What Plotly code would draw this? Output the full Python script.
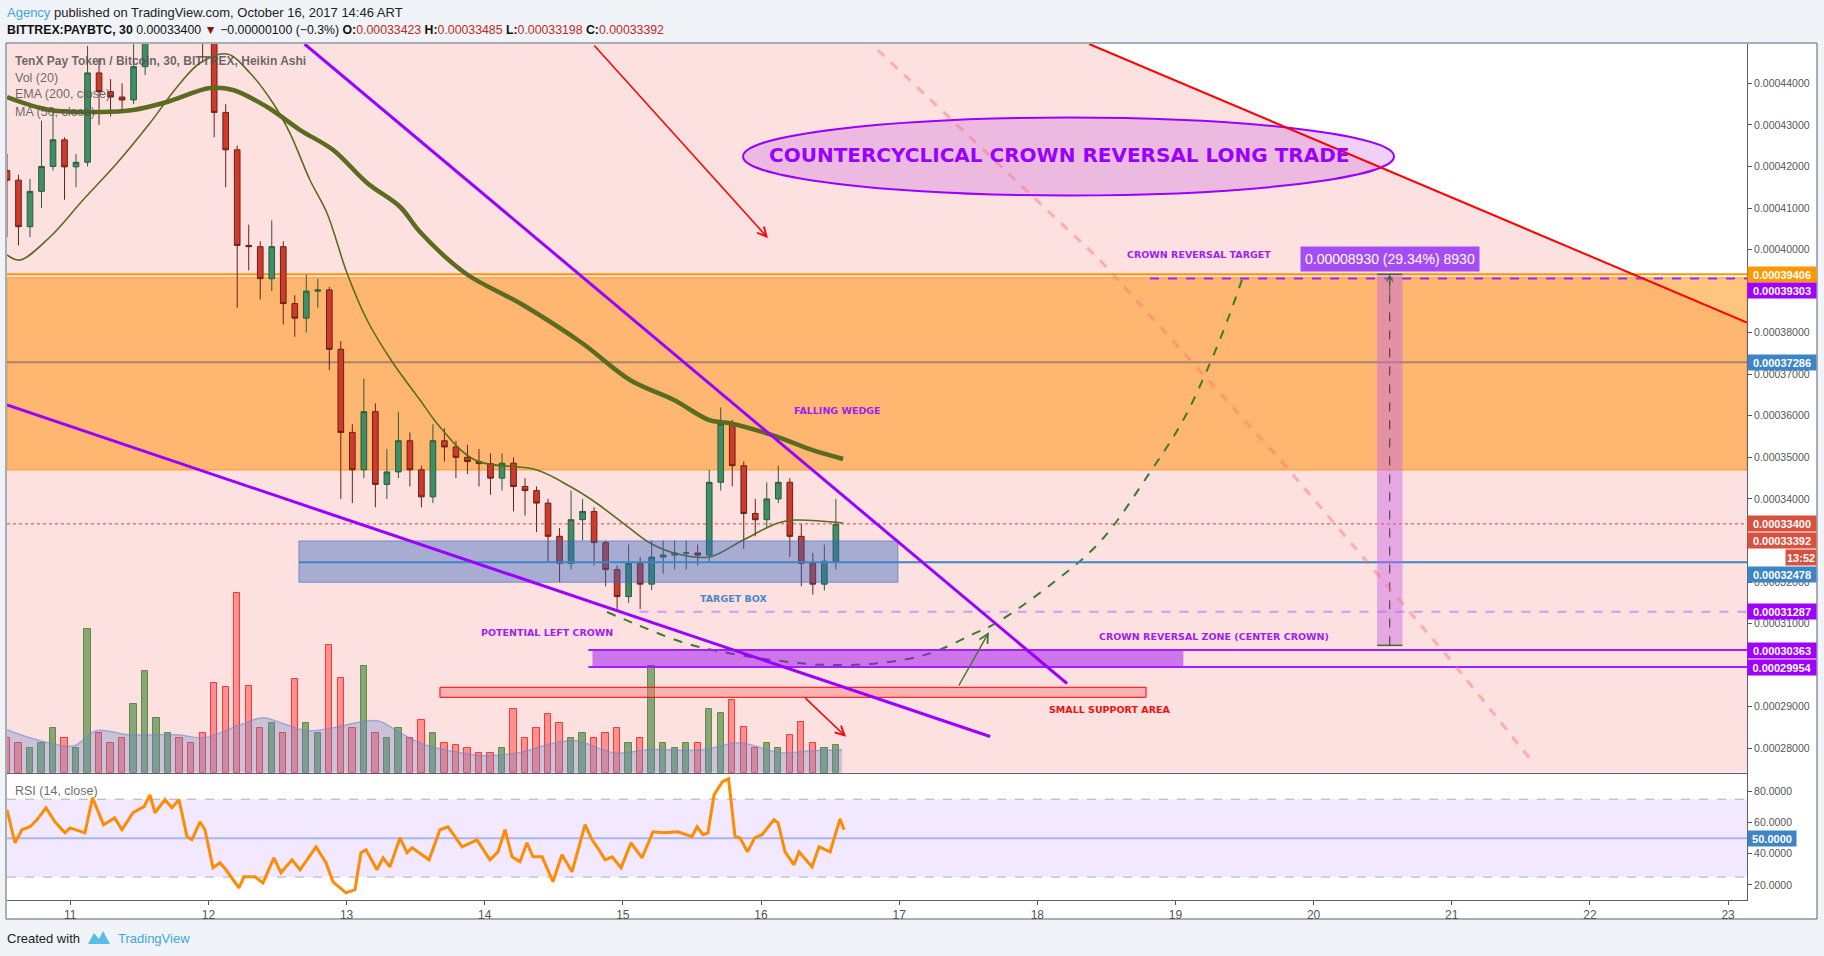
import numpy as np
import plotly.graph_objects as go

S = 1e-8  # satoshi -> BTC

# ---------------- candles: 2-hour Heikin Ashi bars (satoshi) ----------------
bar_start_day = 10.5417
bar_step_day = 2.0 / 24.0
ha_first_open = 41900
ha_close = [41670, 40550, 41400, 42000, 42640, 41990, 42100, 44250, 43800, 43670,
            43600, 44400, 45600, 46000, 46200, 46000, 45800, 45200, 43300, 42400,
            40100, 40070, 39300, 40070, 38700, 38350, 39000, 39030, 37600, 35600,
            34700, 36100, 34350, 34650, 35400, 34700, 34050, 35400, 35250, 35000,
            34900, 34850, 34500, 34860, 34300, 34200, 33900, 33100, 32450, 33500,
            33700, 32950, 32300, 31650, 32450, 31950, 32600, 32650, 32700, 32700,
            32650, 34400, 35800, 34800, 33650, 33500, 34000, 34400, 33100, 32450,
            31950, 32500, 33392]
ha_high = [42300, 41800, 41700, 43100, 43300, 42700, 42300, 44900, 44600, 44100,
           44000, 45000, 46000, 46400, 46600, 46500, 46300, 46000, 45400, 43500,
           42500, 40600, 40200, 40700, 40200, 38900, 39400, 39300, 39100, 37800,
           35800, 36900, 36300, 35200, 36100, 35600, 34800, 35800, 35700, 35400,
           35300, 35200, 35100, 35100, 35000, 34500, 34300, 34000, 33300, 34200,
           34000, 33800, 33000, 32400, 32900, 32600, 33000, 33000, 33000, 33000,
           32900, 34700, 36200, 35900, 34900, 34000, 34400, 34800, 34500, 33400,
           32700, 32900, 34000]
ha_low = [40300, 40100, 40300, 41000, 41900, 41200, 41500, 42000, 43000, 43200,
          43300, 43500, 44200, 45300, 45700, 45600, 45300, 44500, 42700, 41500,
          38600, 39500, 38800, 39000, 38200, 37900, 38000, 38600, 37100, 34000,
          33900, 34500, 33800, 34000, 34500, 34300, 33800, 33900, 34900, 34500,
          34600, 34300, 34100, 34200, 33700, 33600, 33200, 32500, 32000, 32300,
          33000, 32400, 31900, 31300, 31500, 31350, 31800, 32200, 32300, 32300,
          32400, 32500, 34200, 34300, 32800, 33100, 33300, 33900, 32600, 31900,
          31700, 31800, 32300]
volume = [35, 30, 25, 30, 45, 35, 25, 144, 40, 30, 35, 69, 102, 55, 40, 35, 30, 40,
          90, 86, 180, 87, 45, 50, 40, 94, 50, 40, 128, 95, 45, 107, 40, 35, 45, 35,
          53, 40, 30, 28, 25, 20, 20, 25, 64, 35, 45, 59, 50, 35, 40, 35, 40, 45, 30,
          35, 107, 30, 25, 30, 30, 64, 60, 73, 46, 25, 30, 25, 38, 51, 30, 25, 28]

# ---------------- indicators read at nodes ----------------
ema200_day = [10.542, 10.853, 11.215, 11.454, 11.700, 12.012, 12.178, 12.425, 12.664,
              12.903, 13.149, 13.388, 13.532, 13.857, 14.277, 14.704, 15.052, 15.370,
              15.624, 15.768, 16.123, 16.369, 16.594]
ema200_sat = [43670, 43358, 43309, 43358, 43550, 43887, 43839, 43430, 42876, 42395,
              41601, 41024, 40422, 39436, 38666, 37752, 36862, 36381, 35899, 35827,
              35490, 35178, 34961]
ma50_day = [10.542, 10.636, 10.853, 11.092, 11.339, 11.577, 11.773, 11.939, 12.135,
            12.301, 12.467, 12.590, 12.735, 12.858, 13.003, 13.148, 13.336, 13.532,
            13.676, 13.930, 14.378, 14.625, 14.777, 15.001, 15.197, 15.370, 15.624,
            15.870, 16.123, 16.246, 16.594]
ma50_sat = [39870, 39749, 40303, 41193, 42083, 43045, 43911, 44488, 44705, 44248,
            43526, 42804, 41673, 40879, 39436, 38305, 37270, 36380, 35730, 34936,
            34695, 34286, 33974, 33420, 32939, 32699, 32602, 33011, 33420, 33492, 33420]
volma_day = [10.542, 10.759, 11.027, 11.186, 11.425, 11.781, 11.962, 12.230, 12.395,
             12.526, 12.714, 12.902, 13.221, 13.387, 13.568, 13.923, 14.002, 14.241,
             14.509, 14.668, 14.936, 15.189, 15.580, 15.841, 16.145, 16.355, 16.587]
volma_val = [43, 33, 27, 42, 38, 38, 35, 48, 55, 50, 42, 45, 52, 40, 28, 18, 17, 20,
             30, 32, 20, 23, 23, 30, 20, 22, 23]
rsi_day = [10.542, 10.600, 10.650, 10.708, 10.759, 10.824, 10.889, 10.962, 10.998,
           11.106, 11.161, 11.241, 11.321, 11.374, 11.454, 11.534, 11.577, 11.613,
           11.686, 11.736, 11.787, 11.845, 11.881, 11.939, 11.975, 12.033, 12.084,
           12.127, 12.221, 12.257, 12.337, 12.395, 12.474, 12.525, 12.605, 12.663,
           12.779, 12.851, 12.902, 12.996, 13.061, 13.104, 13.141, 13.220, 13.264,
           13.314, 13.387, 13.438, 13.474, 13.597, 13.676, 13.734, 13.785, 13.836,
           13.944, 14.038, 14.096, 14.147, 14.198, 14.255, 14.306, 14.349, 14.415,
           14.494, 14.559, 14.632, 14.726, 14.777, 14.827, 14.871, 14.922, 14.987,
           15.059, 15.139, 15.218, 15.298, 15.399, 15.500, 15.537, 15.580, 15.616,
           15.660, 15.721, 15.765, 15.812, 15.848, 15.902, 15.954, 16.007, 16.094,
           16.123, 16.174, 16.239, 16.275, 16.369, 16.420, 16.500, 16.572, 16.601]
rsi_val = [68.2, 47.0, 55.4, 57.3, 61.8, 69.5, 60.5, 53.4, 56.6, 53.4, 75.9, 58.6,
           63.0, 55.4, 66.3, 70.2, 77.8, 66.3, 74.7, 69.5, 74.7, 50.9, 49.0, 60.5,
           55.4, 31.0, 34.2, 29.7, 18.1, 25.2, 25.2, 21.3, 37.4, 27.8, 36.1, 29.7,
           44.4, 34.2, 22.0, 14.9, 16.9, 40.6, 42.5, 29.7, 37.4, 31.6, 50.2, 40.6,
           43.8, 36.1, 55.4, 57.3, 50.9, 44.4, 48.9, 36.1, 41.2, 55.4, 38.0, 34.8,
           47.0, 38.0, 38.0, 22.0, 39.3, 28.4, 58.6, 48.9, 42.5, 36.1, 38.0, 31.0,
           47.0, 37.4, 54.1, 53.4, 54.1, 50.9, 57.3, 52.2, 53.4, 77.8, 86.2, 88.1,
           50.9, 50.2, 41.2, 50.2, 52.2, 61.8, 59.9, 41.2, 32.9, 41.2, 31.6, 44.4,
           41.2, 62.4, 55.4]

# crown curve (hand drawn dashed path), day / satoshi
crown_day = [14.885, 15.074, 15.449, 15.841, 16.355, 16.615, 16.869, 17.130, 17.289,
             17.521, 17.702, 18.093, 18.455, 18.817, 19.056, 19.251, 19.396, 19.490]
crown_sat = [31279, 31015, 30533, 30245, 30028, 30004, 30052, 30197, 30365, 30726,
             31015, 31929, 32971, 34648, 35899, 37271, 38474, 39364]

day_ticks = list(range(11, 24))
# 0.00039, 0.00033 and 0.00030 are hidden behind price labels in the reference
price_ticks_sat = [28000, 29000, 31000, 32000, 34000, 35000, 36000, 37000, 38000,
                   40000, 41000, 42000, 43000, 44000]
rsi_ticks = [20, 40, 60, 80]

# horizontal levels (satoshi)
LVL_TOP_ORANGE = 39406
LVL_TARGET = 39303
LVL_MID = 37286
LVL_LAST = 33400
LVL_CLOSE = 33392
LVL_BLUE = 32478
LVL_DASH = 31287
LVL_ZONE_HI = 30363
LVL_ZONE_LO = 29954

XL, XR = 10.542, 23.137
YB, YT = 27413, 44946

def b(s):
    return s * S

# ---------------- geometry of the page ----------------
W, H = 1824, 956
ML, MR, MT, MB = 7, 77, 44, 56
PW, PH = W - ML - MR, H - MT - MB

def px(x):
    return (x - ML) / PW

def py(y):
    return (H - MB - y) / PH

SPLIT = py(772.7)

# ---------------- derived candle arrays ----------------
n = len(ha_close)
bar_day = bar_start_day + bar_step_day * np.arange(n)
ha_open = [ha_first_open] + ha_close[:-1]
o = np.array(ha_open) * S
c = np.array(ha_close) * S
h = np.array(ha_high) * S
l = np.array(ha_low) * S
up = np.array(ha_close) >= np.array(ha_open)

fig = go.Figure()

# volume (overlay axis y3)
fig.add_trace(go.Bar(
    x=bar_day, y=volume, xaxis='x', yaxis='y3', width=bar_step_day * 0.55,
    marker=dict(color=['rgba(95,150,80,0.75)' if u else 'rgba(255,90,90,0.6)' for u in up],
                line=dict(color=['rgba(90,130,60,0.9)' if u else 'rgba(255,40,40,0.9)' for u in up],
                          width=1)),
    showlegend=False, hoverinfo='skip'))
fig.add_trace(go.Scatter(
    x=volma_day, y=volma_val, xaxis='x', yaxis='y3', mode='lines', fill='tozeroy',
    line=dict(color='rgba(110,135,200,0.55)', width=1.5, shape='spline'),
    fillcolor='rgba(110,135,200,0.35)', showlegend=False, hoverinfo='skip'))

# candles
fig.add_trace(go.Candlestick(
    x=bar_day, open=o, high=h, low=l, close=c, xaxis='x', yaxis='y',
    increasing=dict(line=dict(color='#2f5a3c', width=1), fillcolor='#3f8f66'),
    decreasing=dict(line=dict(color='#6a2116', width=1), fillcolor='#cf3b2a'),
    showlegend=False, hoverinfo='skip'))

# moving averages
fig.add_trace(go.Scatter(x=ema200_day, y=np.array(ema200_sat) * S, mode='lines',
                         line=dict(color='#5b6b1f', width=4.5, shape='spline'),
                         showlegend=False, hoverinfo='skip'))
fig.add_trace(go.Scatter(x=ma50_day, y=np.array(ma50_sat) * S, mode='lines',
                         line=dict(color='#5b6b1f', width=1.6, shape='spline'),
                         showlegend=False, hoverinfo='skip'))
# crown dashed curve
fig.add_trace(go.Scatter(x=crown_day, y=np.array(crown_sat) * S, mode='lines',
                         line=dict(color='#3a7d28', width=2, dash='dash', shape='spline'),
                         showlegend=False, hoverinfo='skip'))

# RSI
fig.add_trace(go.Scatter(x=rsi_day, y=rsi_val, xaxis='x2', yaxis='y2', mode='lines',
                         line=dict(color='#ff8c00', width=3),
                         showlegend=False, hoverinfo='skip'))

# ---------------- shapes ----------------
shapes = []
# chart frame
shapes.append(dict(type='rect', xref='paper', yref='paper', x0=px(6), x1=px(1817),
                   y0=py(919), y1=py(43), fillcolor='white',
                   line=dict(color='#5d606b', width=1), layer='below'))
# pink background polygon (below red trend line)
RED_X0, RED_Y0, RED_X1, RED_Y1 = 18.375, 44946, 23.137, 38245
shapes.append(dict(type='path', xref='x', yref='y', layer='below',
                   path=f"M {XL},{b(YT)} L {RED_X0},{b(YT)} L {XR},{b(RED_Y1)} L {XR},{b(YB)} L {XL},{b(YB)} Z",
                   fillcolor='#fde0e0', line=dict(width=0)))
# orange zone
shapes.append(dict(type='rect', xref='x', yref='y', layer='below', x0=XL, x1=XR,
                   y0=b(34696), y1=b(39323), fillcolor='rgba(255,140,0,0.5)',
                   line=dict(color='rgba(255,140,0,0.7)', width=1)))
shapes.append(dict(type='line', xref='x', yref='y', layer='below', x0=XL, x1=XR,
                   y0=b(LVL_TOP_ORANGE), y1=b(LVL_TOP_ORANGE),
                   line=dict(color='#ff9800', width=2)))
shapes.append(dict(type='line', xref='x', yref='y', layer='below', x0=XL, x1=XR,
                   y0=b(LVL_MID), y1=b(LVL_MID),
                   line=dict(color='rgba(70,70,100,0.45)', width=2)))
# RSI band
shapes.append(dict(type='rect', xref='x2', yref='y2', layer='below', x0=XL, x1=XR,
                   y0=25, y1=75, fillcolor='rgba(180,120,255,0.17)', line=dict(width=0)))
for lv in (25, 75):
    shapes.append(dict(type='line', xref='x2', yref='y2', layer='below', x0=XL, x1=XR,
                       y0=lv, y1=lv, line=dict(color='#b3abba', width=1, dash='dash')))
shapes.append(dict(type='line', xref='x2', yref='y2', layer='below', x0=XL, x1=XR,
                   y0=50, y1=50, line=dict(color='#a8b6ee', width=2)))

def hl(y, x0, color, width, dash='solid', x1=XR):
    shapes.append(dict(type='line', xref='x', yref='y', layer='above', x0=x0, x1=x1,
                       y0=b(y), y1=b(y), line=dict(color=color, width=width, dash=dash)))

# target box
shapes.append(dict(type='rect', xref='x', yref='y', layer='above', x0=12.655, x1=16.991,
                   y0=b(31995), y1=b(32990), fillcolor='rgba(50,100,190,0.42)',
                   line=dict(color='rgba(50,100,190,0.55)', width=1)))
hl(LVL_BLUE, 12.655, '#3d85c6', 2)
hl(LVL_LAST, XL, '#e0443a', 1, 'dot')
hl(LVL_DASH, 15.12, 'rgba(190,100,255,0.6)', 2, 'dash')
# crown reversal zone
shapes.append(dict(type='rect', xref='x', yref='y', layer='above', x0=14.78, x1=19.057,
                   y0=b(LVL_ZONE_LO), y1=b(LVL_ZONE_HI), fillcolor='rgba(160,10,245,0.5)',
                   line=dict(width=0)))
hl(LVL_ZONE_HI, 14.75, '#a01eff', 2)
hl(LVL_ZONE_LO, 14.75, '#a01eff', 2)
hl(LVL_TARGET, 18.816, '#9c27ff', 2, 'dash')
# small support area
shapes.append(dict(type='rect', xref='x', yref='y', layer='above', x0=13.676, x1=18.787,
                   y0=b(29227), y1=b(29468), fillcolor='rgba(255,120,120,0.45)',
                   line=dict(color='#ff0000', width=1)))
# measurement bar
shapes.append(dict(type='rect', xref='x', yref='y', layer='above', x0=20.459, x1=20.643,
                   y0=b(30476), y1=b(LVL_TOP_ORANGE), fillcolor='rgba(200,100,230,0.45)',
                   line=dict(width=0)))
for yy in (30476, LVL_TOP_ORANGE):
    hl(yy, 20.459, '#4a6b2a', 1.5, x1=20.643)
shapes.append(dict(type='line', xref='x', yref='y', layer='above', x0=20.551, x1=20.551,
                   y0=b(30476), y1=b(LVL_TOP_ORANGE),
                   line=dict(color='#333333', width=1, dash='dash')))
# ellipse
shapes.append(dict(type='circle', xref='x', yref='y', layer='above', x0=15.870, x1=20.582,
                   y0=b(41303), y1=b(43177), fillcolor='rgba(200,100,230,0.3)',
                   line=dict(color='#9900ff', width=2)))
# pink dashed diagonal
pd_pts = [(16.846, 44801), (18.453, 39750), (19.778, 34866), (21.009, 30054), (21.602, 27600)]
shapes.append(dict(type='path', xref='x', yref='y', layer='above',
                   path='M ' + ' L '.join(f'{xx},{b(yy)}' for xx, yy in pd_pts),
                   line=dict(color='rgba(255,110,110,0.45)', width=3, dash='dash')))
# wedge lines
shapes.append(dict(type='line', xref='x', yref='y', layer='above', x0=12.696, y0=b(44946),
                   x1=18.215, y1=b(29559), line=dict(color='#9c00ff', width=3)))
shapes.append(dict(type='line', xref='x', yref='y', layer='above', x0=10.542, y0=b(36260),
                   x1=17.658, y1=b(28284), line=dict(color='#9c00ff', width=3)))
# red trend line
shapes.append(dict(type='line', xref='x', yref='y', layer='above', x0=RED_X0, y0=b(RED_Y0),
                   x1=RED_X1, y1=b(RED_Y1), line=dict(color='#ff0000', width=2)))

# ---------------- annotations ----------------
ann = []

def arrow(x0, y0, x1, y1, color, width=1.5):
    ann.append(dict(x=x1, y=b(y1), ax=x0, ay=b(y0), xref='x', yref='y', axref='x', ayref='y',
                    text='', showarrow=True, arrowhead=5, arrowsize=1.2, arrowwidth=width,
                    arrowcolor=color))

arrow(14.783, 44946, 16.05, 40278, '#ff0000')
arrow(16.31, 29242, 16.615, 28280, '#ff0000')
arrow(17.426, 29475, 17.65, 30798, '#3d7a2a')
arrow(20.551, 38900, 20.551, 39406, '#4a6b2a', 1)

LBL = 'DejaVu Sans'

def dtext(x, y, txt, color, size=9.5):
    ann.append(dict(x=x, y=b(y), xref='x', yref='y', text=f'<b>{txt}</b>', showarrow=False,
                    font=dict(family=LBL, size=size, color=color)))

dtext(18.157, 42275, 'COUNTERCYCLICAL CROWN REVERSAL LONG TRADE', '#9900ff', 20)
dtext(16.55, 36123, 'FALLING WEDGE', '#a020f0')
dtext(15.80, 31609, 'TARGET BOX', '#4a86c8')
dtext(14.45, 30791, 'POTENTIAL LEFT CROWN', '#a020f0')
dtext(19.277, 30685, 'CROWN REVERSAL ZONE (CENTER CROWN)', '#a020f0')
dtext(18.524, 28922, 'SMALL SUPPORT AREA', '#ee1111')
dtext(19.17, 39893, 'CROWN REVERSAL TARGET', '#a020f0')
ann.append(dict(x=20.553, y=b(39785), xref='x', yref='y', text='0.00008930 (29.34%) 8930',
                showarrow=False, bgcolor='#a64cf5', borderpad=4,
                font=dict(family='Liberation Sans', size=14, color='white')))

# price-axis labels
def plabel(val, color, shift=0, yref='y', txt=None, width=66):
    ann.append(dict(x=1, xref='paper', xanchor='left', xshift=0, y=b(val) if yref == 'y' else val,
                    yref=yref, yshift=shift, text=f'<b>{txt if txt else f"{val * S:.8f}"}</b>',
                    showarrow=False, bgcolor=color, borderpad=1, width=width, height=13,
                    font=dict(family='Liberation Sans', size=11, color='white')))

plabel(LVL_TOP_ORANGE, '#ff9800')
plabel(LVL_TARGET, '#a000ff', -12)
plabel(LVL_MID, '#3d85c6')
plabel(LVL_LAST, '#d9503f')
plabel(LVL_CLOSE, '#d9503f', -16.5)
plabel(LVL_BLUE, '#3d85c6', -12)
plabel(LVL_DASH, '#a000ff')
plabel(LVL_ZONE_HI, '#a000ff')
plabel(LVL_ZONE_LO, '#a000ff')
plabel(50, '#3d85c6', 0, 'y2', '50.0000', 46)
ann.append(dict(x=px(1817), xref='paper', xanchor='right', y=b(LVL_CLOSE), yref='y', yshift=-33,
                text='<b>13:52</b>', showarrow=False, bgcolor='#d9503f', borderpad=1, height=13,
                font=dict(family='Liberation Sans', size=11, color='white')))

# page texts
def ptext(x, y, txt, size=13, color='#333', family='Liberation Sans'):
    ann.append(dict(x=px(x), y=py(y), xref='paper', yref='paper', xanchor='left',
                    yanchor='middle', text=txt, showarrow=False,
                    font=dict(family=family, size=size, color=color)))

ptext(5, 12, "<span style='color:#3ea6e0'>Agency</span> published on TradingView.com, October 16, 2017 14:46 ART", 13, '#222')
ptext(5, 30, "<b>BITTREX:PAYBTC, 30</b> 0.00033400 <span style='color:#8b1010'>▼</span> −0.00000100 (−0.3%) "
      "<b>O:</b><span style='color:#c0281e'>0.00033423</span> <b>H:</b><span style='color:#c0281e'>0.00033485</span> "
      "<b>L:</b><span style='color:#c0281e'>0.00033198</span> <b>C:</b><span style='color:#c0281e'>0.00033392</span>",
      12.3, '#111')
ptext(13, 60.7, '<b>TenX Pay Token / Bitcoin, 30, BITTREX, Heikin Ashi</b>', 12, 'rgba(80,80,80,0.85)')
ptext(13, 77.7, 'Vol (20)', 12.5, 'rgba(80,80,80,0.85)')
ptext(13, 94.3, 'EMA (200, close)', 12.5, 'rgba(80,80,80,0.85)')
ptext(13, 111.7, 'MA (50, close)', 12.5, 'rgba(80,80,80,0.85)')
ptext(13, 790.7, 'RSI (14, close)', 12.5, 'rgba(80,80,80,0.85)')
ptext(5, 938, 'Created with', 13, '#222')
ptext(116, 938, 'TradingView', 13, '#3ea6e0')
# small logo
shapes.append(dict(type='path', xref='paper', yref='paper', layer='above',
                   path=f"M {px(88)},{py(944)} L {px(94)},{py(933)} L {px(99)},{py(939)} L {px(103)},{py(931)} "
                        f"L {px(110)},{py(944)} Z",
                   fillcolor='#5bbce8', line=dict(width=0)))

fig.update_layout(
    width=W, height=H, margin=dict(l=ML, r=MR, t=MT, b=MB),
    paper_bgcolor='#f0f3f7', plot_bgcolor='rgba(0,0,0,0)',
    font=dict(family='Liberation Sans', color='#555'),
    showlegend=False, shapes=shapes, annotations=ann, bargap=0,
    xaxis=dict(domain=[0, 1], anchor='y', range=[XL, XR], showticklabels=False, ticks='',
               showgrid=False, zeroline=False, showline=True, linecolor='#5d606b',
               rangeslider=dict(visible=False), fixedrange=True),
    yaxis=dict(domain=[SPLIT, 1], anchor='x', side='right', range=[b(YB), b(YT)],
               tickvals=[b(v) for v in price_ticks_sat],
               ticktext=[f'{v * S:.8f}' for v in price_ticks_sat],
               ticks='outside', ticklen=4, tickcolor='#555', showgrid=False, zeroline=False,
               showline=True, linecolor='#5d606b', tickfont=dict(size=10.5, color='#555')),
    yaxis3=dict(overlaying='y', anchor='x', range=[0, 728.7], visible=False),
    xaxis2=dict(domain=[0, 1], anchor='y2', range=[XL, XR], matches='x',
                tickvals=day_ticks, ticktext=[str(d) for d in day_ticks],
                ticks='outside', ticklen=4, tickcolor='#555', showgrid=False, zeroline=False,
                showline=True, linecolor='#5d606b', tickfont=dict(size=12, color='#555')),
    yaxis2=dict(domain=[0, SPLIT], anchor='x2', side='right', range=[10.3, 92],
                tickvals=rsi_ticks, ticktext=[f'{v:.4f}' for v in rsi_ticks],
                ticks='outside', ticklen=4, tickcolor='#555', showgrid=False, zeroline=False,
                showline=True, linecolor='#5d606b', tickfont=dict(size=10.5, color='#555')),
)

fig.write_html('out.html', config={'displayModeBar': False},
               post_script="document.body.style.margin='0';document.body.style.background='#f0f3f7';")
